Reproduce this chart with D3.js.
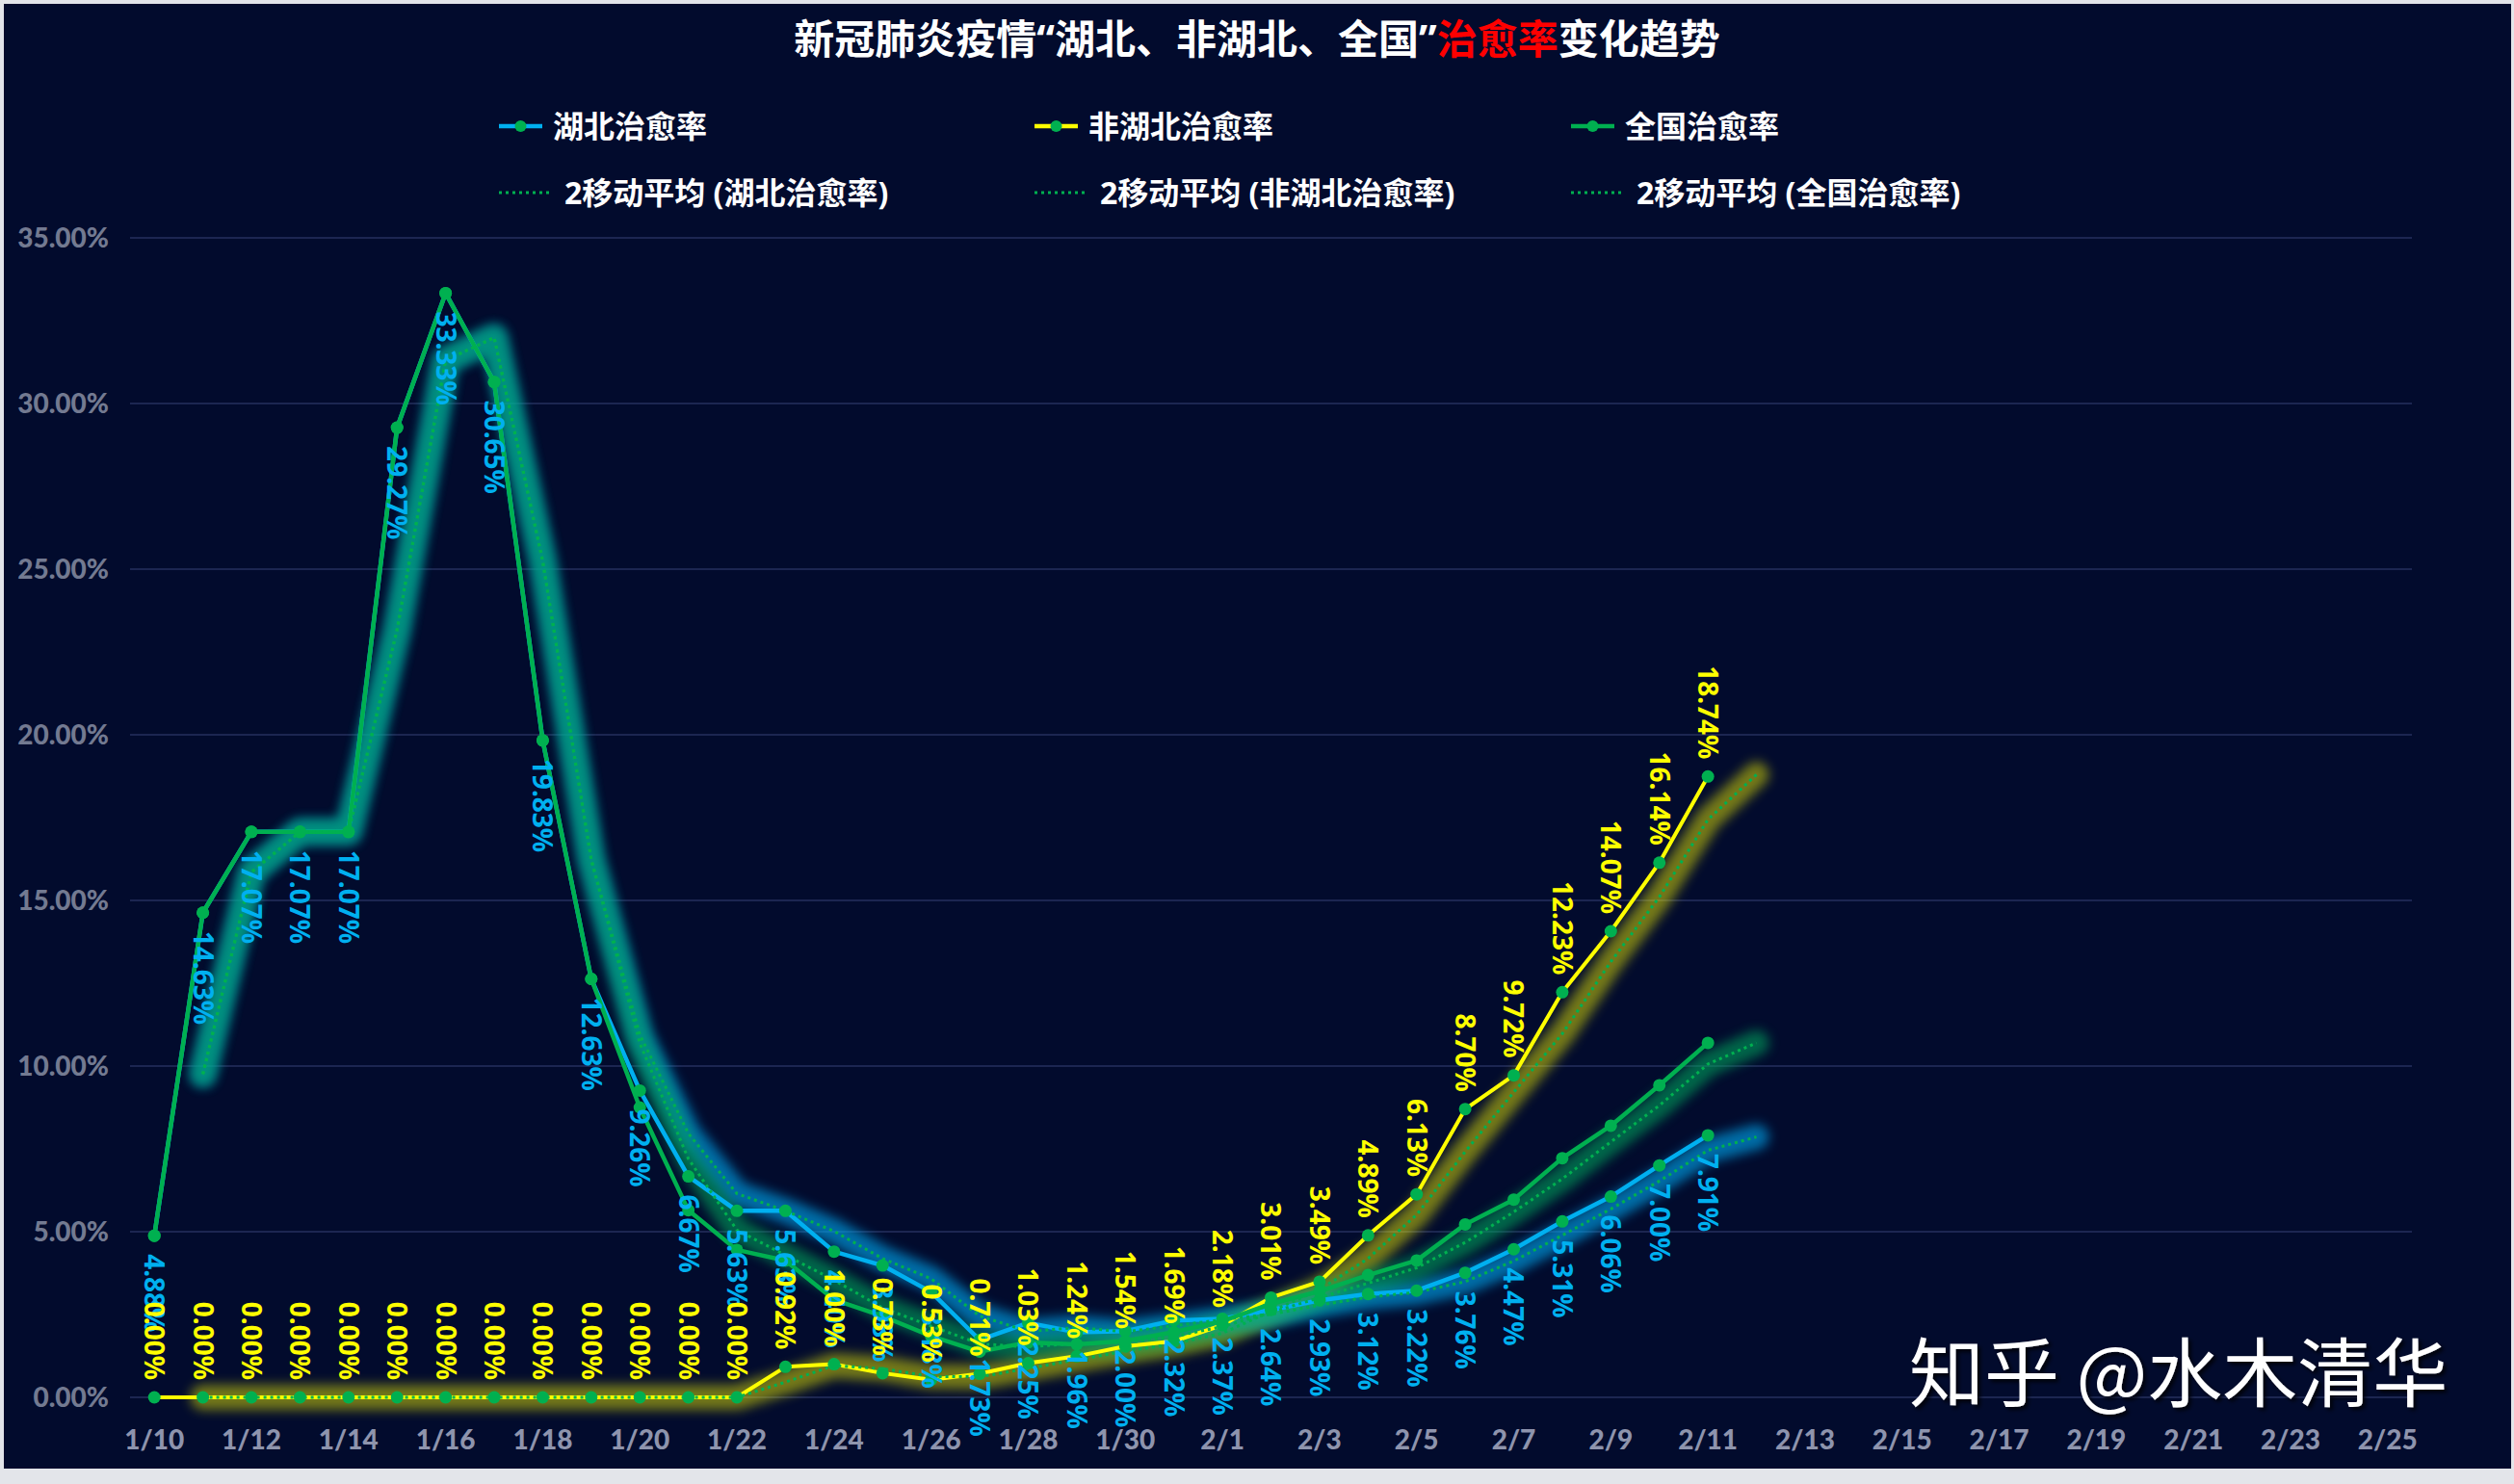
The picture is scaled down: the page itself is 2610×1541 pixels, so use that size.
<!DOCTYPE html>
<meta charset="utf-8">
<style>

body {
  margin: 0;
  background: #e3e5ea;
}

svg {
  display: block;
}

.grid line {
  stroke: #1c2651;
  stroke-width: 2;
}

.xlab, .ylab {
  font-family: Lato, "Liberation Sans", sans-serif;
  font-weight: 900;
  font-size: 28px;
}

.lbl {
  font-family: "Noto Sans", "Open Sans", sans-serif;
  font-weight: bold;
  font-size: 28px;
}

.legend text {
  font-family: "Noto Sans", "Noto Sans CJK SC", sans-serif;
  font-weight: bold;
  font-size: 32px;
  fill: #ffffff;
}

</style>
<svg width="2610" height="1541"></svg>
<script src="https://d3js.org/d3.v7.min.js"></script>
<script>

// categories: every day from 1/10 to 2/25
var dates = ["1/10","1/11","1/12","1/13","1/14","1/15","1/16","1/17","1/18","1/19",
  "1/20","1/21","1/22","1/23","1/24","1/25","1/26","1/27","1/28","1/29","1/30","1/31",
  "2/1","2/2","2/3","2/4","2/5","2/6","2/7","2/8","2/9","2/10","2/11","2/12","2/13",
  "2/14","2/15","2/16","2/17","2/18","2/19","2/20","2/21","2/22","2/23","2/24","2/25"];

// cure rates in %, 1/10 .. 2/11
var hubei = [4.88, 14.63, 17.07, 17.07, 17.07, 29.27, 33.33, 30.65, 19.83, 12.63, 9.26,
  6.67, 5.63, 5.63, 4.40, 3.98, 3.18, 1.73, 2.25, 1.96, 2.00, 2.32, 2.37, 2.64, 2.93,
  3.12, 3.22, 3.76, 4.47, 5.31, 6.06, 7.00, 7.91];

var nonHubei = [0, 0, 0, 0, 0, 0, 0, 0, 0, 0, 0, 0, 0, 0.92, 1.00, 0.73, 0.53, 0.71,
  1.03, 1.24, 1.54, 1.69, 2.18, 3.01, 3.49, 4.89, 6.13, 8.70, 9.72, 12.23, 14.07,
  16.14, 18.74];

var national = [4.88, 14.63, 17.07, 17.07, 17.07, 29.27, 33.33, 30.65, 19.83, 12.63,
  8.75, 5.65, 4.45, 4.13, 2.95, 2.45, 1.85, 1.38, 1.66, 1.60, 1.70, 1.97, 2.30, 2.82,
  3.20, 3.69, 4.13, 5.22, 5.97, 7.22, 8.20, 9.42, 10.70];

// last moving-average point drawn at 2/12 (hubei, non-hubei, national)
var maEnd = [7.86, 18.80, 10.70];

var yTicks = [0, 5, 10, 15, 20, 25, 30, 35];
var xTicks = dates.filter(function(d, i) { return i % 2 === 0; });

var seriesNames = ["湖北治愈率", "非湖北治愈率", "全国治愈率"];
var lineColors = ["#00b0f0", "#ffff00", "#00b050"];
var glowColors = ["#00a8f0", "#ffff00", "#00b060"];
var markerColor = "#00b050";

var svg = d3.select("svg"),
    width = +svg.attr("width"),
    height = +svg.attr("height");

var x = d3.scalePoint().domain(dates).range([135, 2504]).padding(0.5),
    y = d3.scaleLinear().domain([0, 35]).range([1451, 247]);

var defs = svg.append("defs");
defs.append("filter")
    .attr("id", "glow")
    .attr("x", "-10%").attr("y", "-10%").attr("width", "120%").attr("height", "120%")
  .append("feGaussianBlur")
    .attr("stdDeviation", 6);
defs.append("filter")
    .attr("id", "shadow")
  .append("feDropShadow")
    .attr("dx", 3).attr("dy", 3).attr("stdDeviation", 2)
    .attr("flood-color", "#000000").attr("flood-opacity", 0.8);

// chart background
svg.append("rect")
    .attr("x", 4).attr("y", 4)
    .attr("width", width - 7).attr("height", 1521)
    .attr("fill", "#020b2d");

// title
var title = svg.append("text")
    .attr("x", 1305).attr("y", 56)
    .attr("text-anchor", "middle")
    .style("font-family", "\"Noto Sans\", \"Noto Sans CJK SC\", sans-serif")
    .style("font-weight", "bold")
    .style("font-size", "42px")
    .attr("fill", "#ffffff");
title.append("tspan").text("新冠肺炎疫情“湖北、非湖北、全国”");
title.append("tspan").attr("fill", "#ff0000").text("治愈率");
title.append("tspan").text("变化趋势");

// gridlines
svg.append("g")
    .attr("class", "grid")
  .selectAll("line")
  .data(yTicks)
  .enter().append("line")
    .attr("x1", 135).attr("x2", 2504)
    .attr("y1", function(d) { return y(d); })
    .attr("y2", function(d) { return y(d); });

// y labels
svg.append("g")
  .selectAll("text")
  .data(yTicks)
  .enter().append("text")
    .attr("class", "ylab")
    .attr("x", 113)
    .attr("y", function(d) { return y(d); })
    .attr("dy", "0.36em")
    .attr("text-anchor", "end")
    .attr("fill", "#737a91")
    .text(function(d) { return d.toFixed(2) + "%"; });

// x labels
svg.append("g")
  .selectAll("text")
  .data(xTicks)
  .enter().append("text")
    .attr("class", "xlab")
    .attr("x", function(d) { return x(d); })
    .attr("y", 1505)
    .attr("text-anchor", "middle")
    .attr("fill", "#8e94ad")
    .text(function(d) { return d; });

var series = [hubei, nonHubei, national];

// 2-period moving average, as the chart's trendline, plus its last point at 2/12
var mas = series.map(function(vals, k) {
  var pts = d3.pairs(vals).map(function(p, i) {
    return {date: dates[i + 1], v: (p[0] + p[1]) / 2};
  });
  pts.push({date: dates[vals.length], v: maEnd[k]});
  return pts;
});

var line = d3.line()
    .x(function(d) { return x(d.date); })
    .y(function(d) { return y(d.v); });

function toPts(vals) {
  return vals.map(function(v, i) { return {date: dates[i], v: v}; });
}

// glow under moving averages
var glowOrder = [1, 0, 2];
var glowOpacity = [0.62, 0.45, 0.55];
svg.append("g")
  .selectAll("path")
  .data(glowOrder)
  .enter().append("path")
    .attr("d", function(k) { return line(mas[k]); })
    .attr("fill", "none")
    .attr("stroke", function(k) { return glowColors[k]; })
    .attr("stroke-width", 26)
    .attr("stroke-linecap", "round")
    .attr("stroke-linejoin", "round")
    .attr("opacity", function(k) { return glowOpacity[k]; })
    .attr("filter", "url(#glow)");

// series lines
var lineWidths = [4.5, 4, 4.5];
svg.append("g")
  .selectAll("path")
  .data([0, 1, 2])
  .enter().append("path")
    .attr("d", function(k) { return line(toPts(series[k])); })
    .attr("fill", "none")
    .attr("stroke", function(k) { return lineColors[k]; })
    .attr("stroke-width", function(k) { return lineWidths[k]; })
    .attr("stroke-linejoin", "round");

// moving average dotted lines
svg.append("g")
  .selectAll("path")
  .data(mas)
  .enter().append("path")
    .attr("d", line)
    .attr("fill", "none")
    .attr("stroke", "#00b050")
    .attr("stroke-width", 3)
    .attr("stroke-dasharray", "3,4");

// markers
[0, 1, 2].forEach(function(k) {
  svg.append("g")
    .selectAll("circle")
    .data(toPts(series[k]))
    .enter().append("circle")
      .attr("cx", function(d) { return x(d.date); })
      .attr("cy", function(d) { return y(d.v); })
      .attr("r", 6.5)
      .attr("fill", markerColor);
});

// data labels: hubei below points, non-hubei above
svg.append("g")
  .selectAll("text")
  .data(toPts(hubei))
  .enter().append("text")
    .attr("class", "lbl")
    .attr("transform", function(d) {
      return "translate(" + x(d.date) + "," + (y(d.v) + 19) + ") rotate(90)";
    })
    .attr("dy", "0.36em")
    .attr("fill", "#00b0f0")
    .text(function(d) { return d.v.toFixed(2) + "%"; });

svg.append("g")
  .selectAll("text")
  .data(toPts(nonHubei))
  .enter().append("text")
    .attr("class", "lbl")
    .attr("transform", function(d) {
      return "translate(" + x(d.date) + "," + (y(d.v) - 18) + ") rotate(90)";
    })
    .attr("dy", "0.36em")
    .attr("text-anchor", "end")
    .attr("fill", "#ffff00")
    .text(function(d) { return d.v.toFixed(2) + "%"; });

// legend
var legend = svg.append("g").attr("class", "legend");
var legX = [518, 1074, 1631];

seriesNames.forEach(function(name, k) {
  var g = legend.append("g").attr("transform", "translate(" + legX[k] + ",131)");
  g.append("line")
      .attr("x1", 0).attr("x2", 45)
      .attr("stroke", lineColors[k]).attr("stroke-width", 4.5);
  g.append("circle")
      .attr("cx", 22.5).attr("r", 6).attr("fill", markerColor);
  g.append("text")
      .attr("x", 56).attr("y", 12)
      .text(name);

  var g2 = legend.append("g").attr("transform", "translate(" + legX[k] + ",200)");
  g2.append("line")
      .attr("x1", 0).attr("x2", 54)
      .attr("stroke", "#00b050").attr("stroke-width", 3)
      .attr("stroke-dasharray", "3,4");
  g2.append("text")
      .attr("x", 68).attr("y", 12)
      .text("2移动平均 (" + name + ")");
});

// watermark
svg.append("text")
    .attr("x", 1982).attr("y", 1455)
    .style("font-family", "\"Noto Sans CJK SC\", sans-serif")
    .style("font-size", "78px")
    .attr("fill", "#ffffff")
    .attr("filter", "url(#shadow)")
    .text("知乎 @水木清华");

</script>
